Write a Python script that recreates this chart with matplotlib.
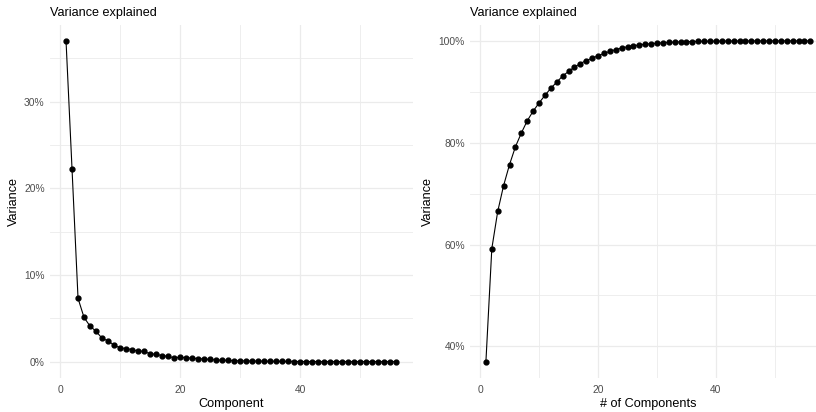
import numpy as np
import matplotlib.pyplot as plt
from matplotlib.ticker import PercentFormatter, MultipleLocator

plt.rcParams['font.family'] = ['Liberation Sans', 'DejaVu Sans']

# proportion of variance explained by each principal component (percent)
variance = [37.0, 22.2, 7.3, 5.1, 4.1, 3.5, 2.7, 2.4, 1.9, 1.6,
            1.5, 1.4, 1.2, 1.2, 0.9, 0.85, 0.7, 0.6, 0.45, 0.5,
            0.45, 0.4, 0.35, 0.3, 0.25, 0.2, 0.15, 0.15, 0.1, 0.1,
            0.08, 0.07, 0.06, 0.05, 0.04, 0.03, 0.025, 0.02, 0.015, 0.012,
            0.01, 0.008, 0.006, 0.005, 0.004, 0.003, 0.003, 0.002, 0.002, 0.0015,
            0.001, 0.001, 0.0008, 0.0005, 0.0003, 0.0001]
components = np.arange(1, len(variance) + 1)
cumulative = np.cumsum(variance)

grid_col = '#EBEBEB'
tick_col = '#4D4D4D'

fig = plt.figure(figsize=(8.16, 4.12), dpi=100)
ax1 = fig.add_axes([0.0607, 0.0833, 0.4449, 0.8563])
ax2 = fig.add_axes([0.5756, 0.0833, 0.4374, 0.8563])


def style(ax, yvals, xlab):
    for s in ax.spines.values():
        s.set_visible(False)
    ax.set_axisbelow(True)
    ax.xaxis.set_major_locator(MultipleLocator(20))
    ax.xaxis.set_minor_locator(MultipleLocator(10))
    ax.grid(True, which='major', color=grid_col, lw=0.9)
    ax.grid(True, which='minor', color=grid_col, lw=0.6)
    ax.tick_params(which='both', length=0, labelsize=7.4, labelcolor=tick_col)
    ax.tick_params(axis='x', pad=5.5)
    ax.tick_params(axis='y', pad=3.5)
    ax.yaxis.set_major_formatter(PercentFormatter(decimals=0))
    span = 55
    ax.set_xlim(1 - 0.05 * span, 56 + 0.05 * span)
    lo, hi = min(yvals), max(yvals)
    ax.set_ylim(lo - 0.05 * (hi - lo), hi + 0.05 * (hi - lo))
    ax.set_title('Variance explained', loc='left', fontsize=9.1, pad=6.5)
    ax.set_xlabel(xlab, fontsize=9.1, labelpad=2)
    ax.set_ylabel('Variance', fontsize=9.1, labelpad=3)


ax1.plot(components, variance, color='black', lw=0.8, marker='o', ms=3.5)
style(ax1, variance, 'Component')
ax1.yaxis.set_major_locator(MultipleLocator(10))
ax1.yaxis.set_minor_locator(MultipleLocator(5))
ax1.set_ylim(-0.05 * 37, 37 + 0.05 * 37)

ax2.plot(components, cumulative, color='black', lw=0.8, marker='o', ms=3.5)
style(ax2, cumulative, '# of Components')
ax2.yaxis.set_major_locator(MultipleLocator(20))
ax2.yaxis.set_minor_locator(MultipleLocator(10))

fig.savefig('out.png', dpi=100)
